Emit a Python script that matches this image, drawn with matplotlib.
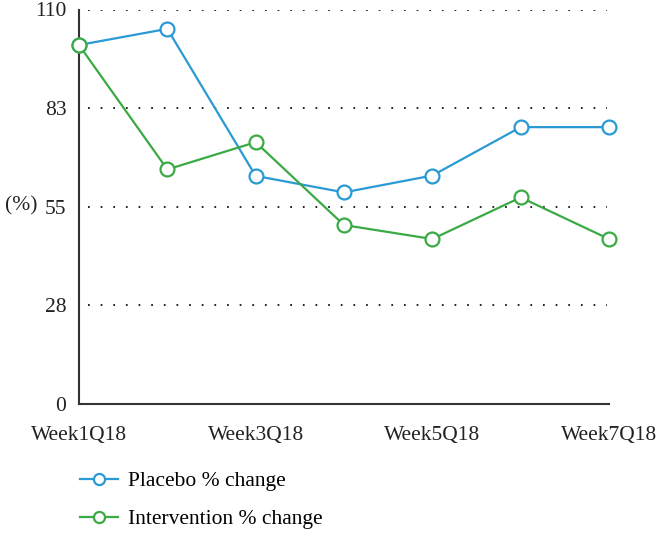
import matplotlib
matplotlib.use("Agg")
import matplotlib.pyplot as plt

# data
weeks = ["Week1Q18", "Week2Q18", "Week3Q18", "Week4Q18", "Week5Q18", "Week6Q18", "Week7Q18"]
placebo = [100.1, 104.6, 63.6, 59.0, 63.7, 77.2, 77.2]
intervention = [100.1, 65.4, 73.0, 49.9, 46.0, 57.6, 46.0]
ytick_pos = [0, 27.5, 55, 82.5, 110]
ytick_lab = ["0", "28", "55", "83", "110"]

blue = "#2A9AD4"
green = "#3AAA44"

plt.rcParams["font.family"] = ["Liberation Serif", "DejaVu Serif"]
plt.rcParams["font.size"] = 15.5

fig = plt.figure(figsize=(6.58, 5.49), dpi=100)
ax = fig.add_axes([79 / 658, 1 - 404 / 549, (609 - 79) / 658, (404 - 9.5) / 549])

x = list(range(len(weeks)))
ax.plot(x, placebo, color=blue, lw=1.6, marker="o", ms=10, mfc="white",
        mec=blue, mew=1.6, label="Placebo % change", clip_on=False, zorder=3)
ax.plot(x, intervention, color=green, lw=1.6, marker="o", ms=10, mfc="white",
        mec=green, mew=1.6, label="Intervention % change", clip_on=False, zorder=4)

ax.set_xlim(0, len(weeks) - 1)
ax.set_ylim(0, 110)
ax.set_yticks(ytick_pos)
ax.set_yticklabels(ytick_lab)
ax.set_xticks(x[::2])
ax.set_xticklabels(weeks[::2])
ax.tick_params(axis="both", length=0, colors="#222222")
ax.tick_params(axis="y", pad=9)
ax.tick_params(axis="x", pad=16)

# dotted gridlines (not at zero)
for v in ytick_pos[1:]:
    ax.plot([0.1, 5.98], [v, v], color="#222222", lw=1.4,
            linestyle=(0, (0.9, 5.6)), zorder=1)

for s in ["top", "right"]:
    ax.spines[s].set_visible(False)
for s in ["left", "bottom"]:
    ax.spines[s].set_color("#333333")
    ax.spines[s].set_linewidth(1.5)

fig.text(5 / 658, 1 - 206 / 549, "(%)", ha="left", va="center", color="#222222")

fig.legend(loc="upper left", bbox_to_anchor=(80 / 658, 1 - 471 / 549),
           frameon=False, borderpad=0, borderaxespad=0, handlelength=1.75,
           handletextpad=0.5, labelspacing=0.85, markerscale=0.8)

fig.savefig("out.png", dpi=100)
